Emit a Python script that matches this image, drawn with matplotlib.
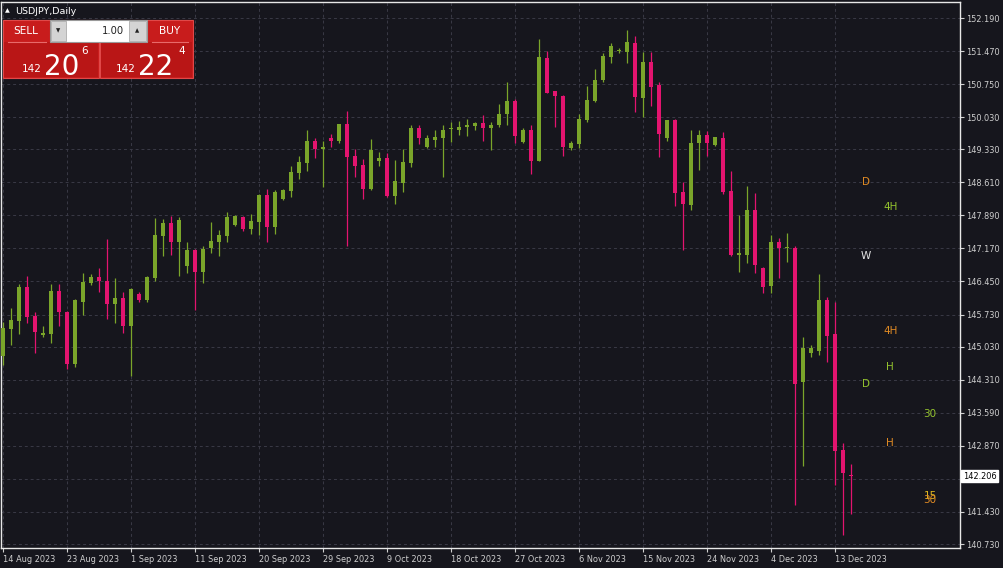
import matplotlib
matplotlib.use("Agg")
import matplotlib.pyplot as plt
from matplotlib.patches import Rectangle
import numpy as np

# USDJPY daily bars, 14 Aug 2023 .. 15 Dec 2023
opens = [144.83, 145.41, 145.59, 146.34, 145.70, 145.28, 145.30, 146.24, 145.79, 144.65,
         146.01, 146.41, 146.55, 146.46, 145.97, 146.10, 145.47, 146.18, 146.04, 146.53,
         147.45, 147.72, 147.32, 146.79, 147.14, 146.66, 147.17, 147.32, 147.45, 147.68,
         147.85, 147.60, 147.75, 148.33, 147.64, 148.25, 148.43, 148.81, 149.04, 149.51,
         149.34, 149.58, 149.52, 149.88, 149.18, 148.99, 148.46, 149.08, 149.15, 148.31,
         148.60, 149.04, 149.80, 149.37, 149.53, 149.58, 149.77, 149.74, 149.81, 149.84,
         149.90, 149.79, 149.86, 150.09, 150.38, 149.48, 149.75, 149.08, 151.31, 150.59,
         150.50, 149.35, 149.45, 149.97, 150.38, 150.84, 151.35, 151.47, 151.46, 151.64,
         150.45, 151.24, 150.72, 149.58, 149.97, 148.41, 148.12, 149.46, 149.64, 149.42,
         149.57, 148.42, 147.03, 147.03, 148.01, 146.74, 146.36, 147.32, 147.17, 147.17,
         144.27, 144.90, 144.94, 146.05, 145.31, 142.78, 142.23]
highs = [145.57, 145.87, 146.40, 146.58, 145.78, 145.48, 146.40, 146.40, 145.80, 146.07,
         146.63, 146.61, 146.74, 147.38, 146.53, 146.22, 146.30, 146.23, 146.56, 147.83,
         147.82, 147.88, 147.86, 147.30, 147.16, 147.23, 147.75, 147.57, 147.96, 147.89,
         147.88, 147.93, 148.35, 148.46, 148.44, 148.46, 148.97, 149.18, 149.74, 149.57,
         149.51, 149.66, 149.89, 150.16, 149.33, 149.11, 149.55, 149.26, 149.24, 149.10,
         149.33, 149.86, 149.86, 149.64, 149.75, 149.86, 149.93, 149.95, 150.00, 149.93,
         150.08, 149.93, 150.31, 150.80, 150.43, 149.79, 149.86, 151.73, 151.47, 150.60,
         150.51, 149.50, 150.09, 150.71, 151.09, 151.42, 151.64, 151.54, 151.93, 151.80,
         151.46, 151.46, 150.79, 149.97, 150.00, 148.61, 149.76, 149.74, 149.73, 149.60,
         149.70, 148.86, 147.90, 148.53, 148.37, 146.77, 147.46, 147.40, 147.50, 147.23,
         145.23, 145.07, 146.61, 146.12, 146.01, 142.92, 142.47]
lows = [144.63, 145.07, 145.31, 145.55, 144.90, 145.23, 145.12, 145.48, 144.54, 144.59,
        145.71, 146.38, 146.23, 145.63, 145.54, 145.32, 144.40, 146.01, 146.00, 146.46,
        147.01, 147.02, 146.58, 146.64, 145.83, 146.41, 147.08, 147.01, 147.32, 147.65,
        147.54, 147.48, 147.46, 147.30, 147.48, 148.22, 148.28, 148.68, 148.86, 149.13,
        148.50, 149.39, 149.46, 147.23, 148.73, 148.24, 148.44, 148.97, 148.28, 148.14,
        148.41, 148.95, 149.45, 149.35, 149.37, 148.73, 149.48, 149.64, 149.63, 149.76,
        149.50, 149.31, 149.81, 149.86, 149.46, 149.46, 148.79, 149.07, 150.55, 149.82,
        149.18, 149.32, 149.35, 149.93, 150.35, 150.79, 151.22, 151.42, 151.20, 150.15,
        150.04, 150.27, 149.17, 149.50, 148.09, 147.14, 148.01, 148.88, 149.18, 149.41,
        148.35, 147.01, 146.66, 146.86, 146.63, 146.19, 146.19, 146.53, 146.87, 141.57,
        142.44, 144.80, 144.85, 144.69, 142.02, 140.93, 141.38]
closes = [145.43, 145.61, 146.34, 145.68, 145.36, 145.33, 146.24, 145.78, 144.65, 146.05,
          146.44, 146.55, 146.45, 145.97, 146.09, 145.47, 146.29, 146.05, 146.55, 147.46,
          147.73, 147.32, 147.80, 147.14, 146.66, 147.16, 147.33, 147.46, 147.86, 147.88,
          147.59, 147.77, 148.33, 147.64, 148.41, 148.44, 148.84, 149.06, 149.51, 149.34,
          149.37, 149.52, 149.88, 149.17, 148.97, 148.46, 149.31, 149.15, 148.31, 148.64,
          149.06, 149.80, 149.57, 149.57, 149.60, 149.76, 149.79, 149.82, 149.87, 149.90,
          149.79, 149.86, 150.09, 150.38, 149.63, 149.75, 149.08, 151.33, 150.56, 150.50,
          149.37, 149.47, 149.99, 150.40, 150.85, 151.36, 151.57, 151.49, 151.67, 150.48,
          151.24, 150.69, 149.66, 149.97, 148.38, 148.14, 149.47, 149.64, 149.46, 149.59,
          148.41, 147.03, 147.06, 148.01, 146.81, 146.34, 147.32, 147.17, 147.19, 144.22,
          145.01, 145.00, 146.05, 145.27, 142.76, 142.27, 142.206]

date_labels = ["14 Aug 2023", "23 Aug 2023", "1 Sep 2023", "11 Sep 2023", "20 Sep 2023",
               "29 Sep 2023", "9 Oct 2023", "18 Oct 2023", "27 Oct 2023", "6 Nov 2023",
               "15 Nov 2023", "24 Nov 2023", "4 Dec 2023", "13 Dec 2023"]
bars_per_label = 8

price_ticks = [152.19, 151.47, 150.75, 150.03, 149.33, 148.61, 147.89, 147.17, 146.45,
               145.73, 145.03, 144.31, 143.59, 142.87, 142.15, 141.43, 140.73]
price_labels = ["152.190", "151.470", "150.750", "150.030", "149.330", "148.610", "147.890",
                "147.170", "146.450", "145.730", "145.030", "144.310", "143.590", "142.870",
                "", "141.430", "140.730"]
last_price = 142.206

# timeframe level markers drawn to the right of the last bar
level_text = ["D", "4H", "W", "4H", "H", "D", "30", "H", "15", "30"]
level_price = [148.62, 148.07, 147.00, 145.37, 144.59, 144.22, 143.56, 142.93, 141.77, 141.69]
level_bar = [107.9, 110.9, 107.9, 110.9, 110.9, 107.9, 115.9, 110.9, 115.9, 115.9]
level_color = ["#e08a24", "#93c22e", "#e6e6e6", "#e08a24", "#93c22e", "#93c22e",
               "#93c22e", "#e08a24", "#e0b820", "#e08a24"]

bg = "#16161d"
up_col = "#7aa52a"
down_col = "#e3146f"
txt_col = "#d0d0d0"

plt.rcParams["font.family"] = ["DejaVu Sans"]

fig = plt.figure(figsize=(10.04, 5.68), dpi=100, facecolor=bg)
W, H = 1004, 568
ax = fig.add_axes([1 / W, 20 / H, 959 / W, 546 / H], facecolor=bg)

o = np.array(opens)
h = np.array(highs)
l = np.array(lows)
c = np.array(closes)
x = np.arange(len(o))
up = c >= o
colors = np.where(up, up_col, down_col)

ax.vlines(x, l, h, colors=colors, lw=0.9, zorder=3)
body_lo = np.minimum(o, c)
body_h = np.maximum(np.abs(c - o), 0.022)
ax.bar(x, body_h, bottom=body_lo, width=0.62, color=colors, lw=0, zorder=4)

ax.set_xlim(-0.25, 119.625)
ax.set_ylim(140.643, 152.539)

xt = np.arange(len(date_labels)) * bars_per_label
ax.set_xticks(xt)
ax.set_xticklabels(date_labels, fontsize=5.9, color=txt_col, ha="left")
ax.yaxis.tick_right()
ax.set_yticks(price_ticks)
ax.set_yticklabels(price_labels, fontsize=5.9, color=txt_col)
ax.tick_params(axis="x", direction="out", length=3, width=0.8, color=txt_col, pad=2)
ax.tick_params(axis="y", direction="out", length=3, width=0.8, color=txt_col, pad=1.5)

ax.grid(True, color="#3a3a46", linestyle=(0, (3, 3)), lw=0.7, zorder=0)
for s in ax.spines.values():
    s.set_color("#e8e8e8")
    s.set_linewidth(1.0)

# current price box
ax.annotate("142.206", xy=(1.0, last_price), xycoords=("axes fraction", "data"),
            xytext=(2, 0), textcoords="offset points", ha="left", va="center",
            fontsize=5.9, color="black",
            bbox=dict(boxstyle="square,pad=0.2", fc="white", ec="white"),
            annotation_clip=False)

for t, p, b, col in zip(level_text, level_price, level_bar, level_color):
    ax.text(b, p, t, color=col, fontsize=7.5, ha="center", va="center", zorder=5)

# overlay in pixel coordinates for the title and trade panel
ov = fig.add_axes([0, 0, 1, 1], facecolor="none")
ov.set_xlim(0, W)
ov.set_ylim(H, 0)
ov.axis("off")

ov.text(5, 11, "\u25b2", color="white", fontsize=4.5, va="center")
ov.text(15, 11, "USDJPY,Daily", color="white", fontsize=6.8, va="center")

red = "#c81c1c"
ov.add_patch(Rectangle((3, 20), 96, 58, fc=red, ec="#e04848", lw=0.8))
ov.add_patch(Rectangle((100, 20), 93, 58, fc=red, ec="#e04848", lw=0.8))
ov.add_patch(Rectangle((4, 42), 94, 35, fc="#b91616", ec="none"))
ov.add_patch(Rectangle((101, 42), 91, 35, fc="#b91616", ec="none"))
ov.plot([8, 46], [42, 42], color="#e86a6a", lw=0.8)
ov.plot([152, 188], [42, 42], color="#e86a6a", lw=0.8)
ov.add_patch(Rectangle((50, 20), 97, 22, fc="white", ec="#9a9a9a", lw=0.8))
ov.add_patch(Rectangle((51, 21), 15, 20, fc="#d4d4d4", ec="#a0a0a0", lw=0.5))
ov.add_patch(Rectangle((129, 21), 17, 20, fc="#d4d4d4", ec="#a0a0a0", lw=0.5))
ov.text(58.5, 31, "\u25bc", color="#222222", fontsize=4, ha="center", va="center")
ov.text(137.5, 31, "\u25b2", color="#222222", fontsize=4, ha="center", va="center")
ov.text(124, 31, "1.00", color="#222222", fontsize=7.2, ha="right", va="center")
ov.text(26, 31, "SELL", color="white", fontsize=7.6, ha="center", va="center")
ov.text(170, 31, "BUY", color="white", fontsize=7.6, ha="center", va="center")

ov.text(42, 69, "142", color="white", fontsize=7.5, ha="right", va="center")
ov.text(44, 75, "20", color="white", fontsize=20, ha="left", va="baseline")
ov.text(81, 51, "6", color="white", fontsize=7.5, ha="left", va="center")
ov.text(136, 69, "142", color="white", fontsize=7.5, ha="right", va="center")
ov.text(138, 75, "22", color="white", fontsize=20, ha="left", va="baseline")
ov.text(178, 51, "4", color="white", fontsize=7.5, ha="left", va="center")

fig.savefig("out.png", dpi=100, facecolor=bg)
